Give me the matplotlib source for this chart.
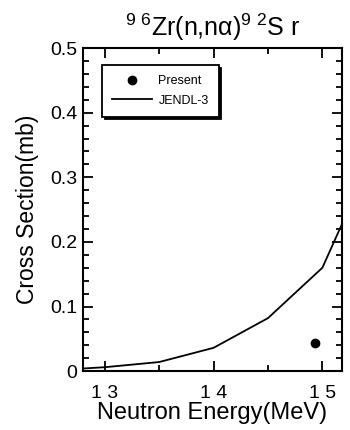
import numpy as np
import matplotlib.pyplot as plt

# JENDL-3 evaluation
energy_jendl = [12.8, 13.0, 13.5, 14.0, 14.5, 15.0, 15.2]
xs_jendl = [0.004, 0.006, 0.014, 0.036, 0.082, 0.160, 0.235]

# present measurement
energy_present = [14.93]
xs_present = [0.044]

xtick_vals = [13, 14, 15]
xtick_labels = ['1 3', '1 4', '1 5']
ytick_vals = [0, 0.1, 0.2, 0.3, 0.4, 0.5]
ytick_labels = ['0', '0.1', '0.2', '0.3', '0.4', '0.5']

plt.rcParams['font.family'] = ['Liberation Sans', 'DejaVu Sans']
plt.rcParams['mathtext.fontset'] = 'custom'
plt.rcParams['mathtext.rm'] = 'Liberation Sans'
plt.rcParams['xtick.direction'] = 'in'
plt.rcParams['ytick.direction'] = 'in'

fig = plt.figure(figsize=(3.5, 4.3), dpi=100)
ax = fig.add_axes([0.237, 0.137, 0.740, 0.751])

ax.plot(energy_jendl, xs_jendl, color='black', lw=1.3, label='JENDL-3')
ax.plot(energy_present, xs_present, 'o', color='black', ms=6, label='Present')

ax.set_xlim(12.8, 15.18)
ax.set_ylim(0, 0.5)
ax.set_xticks(xtick_vals)
ax.set_xticklabels(xtick_labels)
ax.set_xticks([13.5, 14.5], minor=True)
ax.set_yticks(ytick_vals)
ax.set_yticklabels(ytick_labels)
ax.set_yticks(np.arange(0, 0.5, 0.02), minor=True)
ax.tick_params(which='both', top=True, right=True, labelsize=14, width=1.3)
ax.tick_params(which='major', length=7, pad=4)
ax.tick_params(which='minor', length=4)
ax.tick_params(axis='x', pad=10)
for s in ax.spines.values():
    s.set_linewidth(1.5)

ax.set_xlabel('Neutron Energy(MeV)', fontsize=17, labelpad=0)
ax.set_ylabel('Cross Section(mb)', fontsize=16.5, labelpad=8)
ax.set_title('$^{9\\ 6}$Zr(n,n\u03b1)$^{9\\ 2}$S r', fontsize=18, pad=9)

leg = ax.legend(handles=ax.get_lines()[::-1], loc='upper left',
                bbox_to_anchor=(0.05, 0.967), fontsize=9, frameon=True,
                fancybox=False, shadow={'color': 'black', 'alpha': 1},
                edgecolor='black', handlelength=3.2, borderpad=0.8,
                labelspacing=0.6, handletextpad=0.5)
leg.get_frame().set_linewidth(1.3)

fig.savefig('out.png', dpi=100)
